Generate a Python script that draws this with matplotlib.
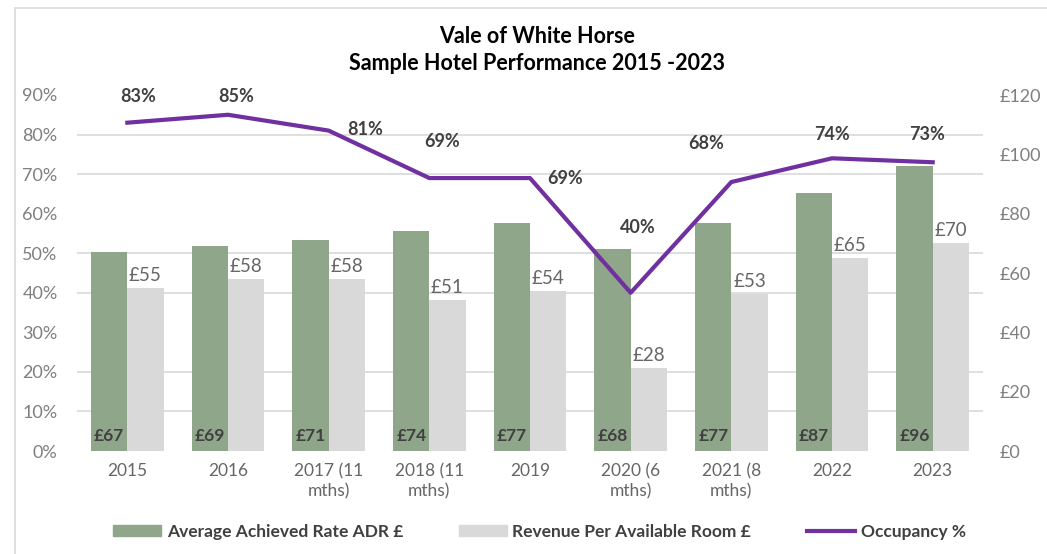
import numpy as np
import matplotlib
matplotlib.use("Agg")
from matplotlib import pyplot as plt
from matplotlib.patches import Rectangle
from matplotlib.lines import Line2D

plt.rcParams['font.family'] = ['Lato', 'DejaVu Sans']

# data
years = ['2015', '2016', '2017 (11\nmths)', '2018 (11\nmths)', '2019',
         '2020 (6\nmths)', '2021 (8\nmths)', '2022', '2023']
adr = [67, 69, 71, 74, 77, 68, 77, 87, 96]
revpar = [55, 58, 58, 51, 54, 28, 53, 65, 70]
occupancy = [83, 85, 81, 69, 69, 40, 68, 74, 73]

# where each occupancy label sits relative to its point (points)
occ_offsets = [(8, 19), (6, 13), (26, 1), (9, 26), (25, 0),
               (5, 47), (-18, 28), (0, 17), (-4, 20)]

green = '#8fa68a'
grey = '#d9d9d9'
purple = '#7030a0'
dark = '#404040'
tickgrey = '#7f7f7f'

fig = plt.figure(figsize=(10.47, 5.54), dpi=100)
# chart border
fig.patches.append(Rectangle((15 / 1047, -0.1), 1.2, 1 - 8 / 554 + 0.1,
                             transform=fig.transFigure, fill=False,
                             edgecolor='#d9d9d9', linewidth=1.2))

ax = fig.add_axes([77 / 1047, 1 - 451 / 554, (983 - 77) / 1047, (451 - 95) / 554])
ax2 = ax.twinx()
x = np.arange(len(years))
w = 0.36

# bars against the £ scale (right side)
ax.bar(x - w / 2, adr, w, color=green, zorder=2)
ax.bar(x + w / 2, revpar, w, color=grey, zorder=2)
ax.set_ylim(0, 120)
ax.set_xlim(-0.5, len(years) - 0.5)
ax.set_yticks(np.arange(0, 121, 20))
ax.set_yticklabels(['£%d' % v for v in range(0, 121, 20)])
ax.set_yticks(np.linspace(0, 120, 10), minor=True)
ax.grid(True, which='minor', axis='y', color='#d9d9d9', linewidth=1.2, zorder=0)
ax.yaxis.tick_right()
ax.tick_params(axis='y', which='both', length=0, colors=tickgrey, labelsize=13, pad=12)
ax.set_xticks(x)
ax.set_xticklabels(years, color='#666666', fontsize=12.5, linespacing=1.3)
ax.tick_params(axis='x', length=0, pad=9)
for s in ax.spines.values():
    s.set_visible(False)

for i in range(len(years)):
    ax.annotate('£%d' % adr[i], (x[i] - w / 2, 0), xytext=(0, 5),
                textcoords='offset points', ha='center', va='bottom',
                fontsize=12.5, fontweight='bold', color=dark)
    ax.annotate('£%d' % revpar[i], (x[i] + w / 2, revpar[i]), xytext=(0, 3),
                textcoords='offset points', ha='center', va='bottom',
                fontsize=13.5, color='#666666')

# occupancy line against the % scale (left side)
ax2.plot(x, np.array(occupancy) / 100, color=purple, linewidth=3, zorder=3)
ax2.set_ylim(0, 0.9)
ax2.set_yticks(np.arange(0, 0.91, 0.1))
ax2.set_yticklabels(['%d%%' % v for v in range(0, 91, 10)])
ax2.yaxis.tick_left()
ax2.tick_params(axis='y', length=0, colors=tickgrey, labelsize=13, pad=14)
for s in ax2.spines.values():
    s.set_visible(False)

for i in range(len(years)):
    ax2.annotate('%d%%' % occupancy[i], (x[i], occupancy[i] / 100),
                 xytext=occ_offsets[i], textcoords='offset points',
                 ha='center', va='center', fontsize=13,
                 fontweight='bold', color=dark)

fig.text(0.513, 1 - 50 / 554, 'Vale of White Horse\nSample Hotel Performance 2015 -2023',
         ha='center', va='center', fontsize=15.5, fontweight='bold',
         color='black', linespacing=1.35)

handles = [Rectangle((0, 0), 1, 1, color=green),
           Rectangle((0, 0), 1, 1, color=grey),
           Line2D([0], [0], color=purple, linewidth=3)]
labels = ['Average Achieved Rate ADR £', 'Revenue Per Available Room £', 'Occupancy %']
fig.legend(handles, labels, loc='center', bbox_to_anchor=(0.515, 1 - 532 / 554),
           ncol=3, frameon=False, handlelength=2.8, handleheight=0.6,
           handletextpad=0.3, columnspacing=3.2,
           prop={'weight': 'bold', 'size': 12.5}, labelcolor=dark)

fig.savefig('out.png', dpi=100)
